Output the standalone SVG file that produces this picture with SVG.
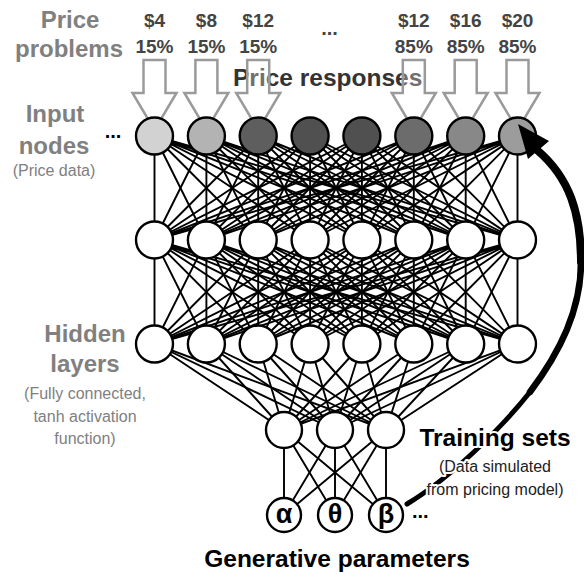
<svg xmlns="http://www.w3.org/2000/svg" width="584" height="577" viewBox="0 0 584 577">
<style>
.ln{stroke:#000;stroke-width:1.9;fill:none;stroke-linejoin:round}
.nd{stroke:#000;stroke-width:2.4;fill:#fff}
.blk{fill:#fff;fill-opacity:0.3;stroke:#9a9a9a;stroke-width:2.5}
.t{font-family:"Liberation Sans",Arial,sans-serif}
.gb{font-weight:bold;font-size:24px;fill:#808080;text-anchor:middle}
.gs{font-size:16px;fill:#808080;text-anchor:middle}
.pr{font-weight:bold;font-size:19px;fill:#444;text-anchor:middle}
.dots{font-weight:bold;font-size:20px}
.gk{font-weight:bold;font-size:27px;fill:#000;text-anchor:middle}
.halo{stroke:#fff;stroke-width:4;paint-order:stroke;stroke-linejoin:round}
.big{stroke:#000;fill:none;stroke-linecap:round}
</style>
<defs>
<polygon id="blk" points="-11,60 11,60 11,93 22,93 0,130 -22,93 -11,93"/>
<g id="mesh" class="ln">
<path d="M154.5,104L154.5,0L206.4,104M258.2,104L154.5,0L310.1,104M361.9,104L154.5,0L413.8,104M465.7,104L154.5,0L517.5,104"/>
<path d="M154.5,104L206.4,0L206.4,104M258.2,104L206.4,0L310.1,104M361.9,104L206.4,0L413.8,104M465.7,104L206.4,0L517.5,104"/>
<path d="M154.5,104L258.2,0L206.4,104M258.2,104L258.2,0L310.1,104M361.9,104L258.2,0L413.8,104M465.7,104L258.2,0L517.5,104"/>
<path d="M154.5,104L310.1,0L206.4,104M258.2,104L310.1,0L310.1,104M361.9,104L310.1,0L413.8,104M465.7,104L310.1,0L517.5,104"/>
<path d="M154.5,104L361.9,0L206.4,104M258.2,104L361.9,0L310.1,104M361.9,104L361.9,0L413.8,104M465.7,104L361.9,0L517.5,104"/>
<path d="M154.5,104L413.8,0L206.4,104M258.2,104L413.8,0L310.1,104M361.9,104L413.8,0L413.8,104M465.7,104L413.8,0L517.5,104"/>
<path d="M154.5,104L465.7,0L206.4,104M258.2,104L465.7,0L310.1,104M361.9,104L465.7,0L413.8,104M465.7,104L465.7,0L517.5,104"/>
<path d="M154.5,104L517.5,0L206.4,104M258.2,104L517.5,0L310.1,104M361.9,104L517.5,0L413.8,104M465.7,104L517.5,0L517.5,104"/>
</g>
</defs>

<g id="connectors">
<use href="#mesh" y="136"/>
<use href="#mesh" y="240"/>
<g class="ln">
<path d="M154.5,344L284,430L206.4,344M258.2,344L284,430L310.1,344M361.9,344L284,430L413.8,344M465.7,344L284,430L517.5,344"/>
<path d="M154.5,344L335,430L206.4,344M258.2,344L335,430L310.1,344M361.9,344L335,430L413.8,344M465.7,344L335,430L517.5,344"/>
<path d="M154.5,344L386,430L206.4,344M258.2,344L386,430L310.1,344M361.9,344L386,430L413.8,344M465.7,344L386,430L517.5,344"/>
<path d="M284,430L284,515L335,430M386,430L284,515"/>
<path d="M284,430L335,515L335,430M386,430L335,515"/>
<path d="M284,430L386,515L335,430M386,430L386,515"/>
</g>
</g>

<text class="t" x="233" y="86" font-weight="bold" font-size="24.5" fill="#333">Price responses</text>

<g id="input-arrows" class="blk">
<use href="#blk" x="154.5"/>
<use href="#blk" x="206.4"/>
<use href="#blk" x="258.2"/>
<use href="#blk" x="413.8"/>
<use href="#blk" x="465.7"/>
<use href="#blk" x="517.5"/>
</g>

<g id="input-layer">
<g id="in1"><circle class="nd" cx="154.5" cy="136" r="18.5" style="fill:#d2d2d2"/></g>
<g id="in2"><circle class="nd" cx="206.4" cy="136" r="18.5" style="fill:#b3b3b3"/></g>
<g id="in3"><circle class="nd" cx="258.2" cy="136" r="18.5" style="fill:#5e5e5e"/></g>
<g id="in4"><circle class="nd" cx="310.1" cy="136" r="18.5" style="fill:#505050"/></g>
<g id="in5"><circle class="nd" cx="361.9" cy="136" r="18.5" style="fill:#505050"/></g>
<g id="in6"><circle class="nd" cx="413.8" cy="136" r="18.5" style="fill:#6c6c6c"/></g>
<g id="in7"><circle class="nd" cx="465.7" cy="136" r="18.5" style="fill:#888"/></g>
<g id="in8"><circle class="nd" cx="517.5" cy="136" r="18.5" style="fill:#9c9c9c"/></g>
</g>
<g id="hidden1">
<g id="h1a"><circle class="nd" cx="154.5" cy="240" r="18.5"/></g>
<g id="h1b"><circle class="nd" cx="206.4" cy="240" r="18.5"/></g>
<g id="h1c"><circle class="nd" cx="258.2" cy="240" r="18.5"/></g>
<g id="h1d"><circle class="nd" cx="310.1" cy="240" r="18.5"/></g>
<g id="h1e"><circle class="nd" cx="361.9" cy="240" r="18.5"/></g>
<g id="h1f"><circle class="nd" cx="413.8" cy="240" r="18.5"/></g>
<g id="h1g"><circle class="nd" cx="465.7" cy="240" r="18.5"/></g>
<g id="h1h"><circle class="nd" cx="517.5" cy="240" r="18.5"/></g>
</g>
<g id="hidden2">
<g id="h2a"><circle class="nd" cx="154.5" cy="344" r="18.5"/></g>
<g id="h2b"><circle class="nd" cx="206.4" cy="344" r="18.5"/></g>
<g id="h2c"><circle class="nd" cx="258.2" cy="344" r="18.5"/></g>
<g id="h2d"><circle class="nd" cx="310.1" cy="344" r="18.5"/></g>
<g id="h2e"><circle class="nd" cx="361.9" cy="344" r="18.5"/></g>
<g id="h2f"><circle class="nd" cx="413.8" cy="344" r="18.5"/></g>
<g id="h2g"><circle class="nd" cx="465.7" cy="344" r="18.5"/></g>
<g id="h2h"><circle class="nd" cx="517.5" cy="344" r="18.5"/></g>
</g>
<g id="hidden3">
<g id="h3a"><circle class="nd" cx="284" cy="430" r="18"/></g>
<g id="h3b"><circle class="nd" cx="335" cy="430" r="18"/></g>
<g id="h3c"><circle class="nd" cx="386" cy="430" r="18"/></g>
</g>
<g id="params">
<g id="p-alpha"><circle class="nd" cx="284" cy="515" r="17"/><text class="t gk" x="284" y="523">α</text></g>
<g id="p-theta"><circle class="nd" cx="335" cy="515" r="17"/><text class="t gk" x="335" y="523">θ</text></g>
<g id="p-beta"><circle class="nd" cx="386" cy="515" r="17"/><text class="t gk" x="386" y="523">β</text></g>
</g>

<g id="training-arrow">
<path class="big" stroke-width="5" d="M407,504 C450,478 500,430 530,392"/>
<path class="big" stroke-width="6.5" d="M530,392 C560,352 581,310 581,262"/>
<path class="big" stroke-width="8" d="M581,262 C581,214 570,178 537,150"/>
<polygon points="518,124 549,141 528,159" fill="#000"/>
</g>

<g id="labels" class="t">
<text class="gb" x="70" y="28">Price</text>
<text class="gb" x="69" y="57">problems</text>
<text class="pr" x="154.5" y="27">$4</text><text class="pr" x="154.5" y="53">15%</text>
<text class="pr" x="206.4" y="27">$8</text><text class="pr" x="206.4" y="53">15%</text>
<text class="pr" x="258.2" y="27">$12</text><text class="pr" x="258.2" y="53">15%</text>
<text class="dots" x="329.5" y="35" fill="#444" text-anchor="middle">...</text>
<text class="pr" x="413.8" y="27">$12</text><text class="pr" x="413.8" y="53">85%</text>
<text class="pr" x="465.7" y="27">$16</text><text class="pr" x="465.7" y="53">85%</text>
<text class="pr" x="517.5" y="27">$20</text><text class="pr" x="517.5" y="53">85%</text>
<text class="gb" x="55" y="122">Input</text>
<text class="gb" x="54" y="154">nodes</text>
<text class="gs" x="54" y="176">(Price data)</text>
<text class="dots" x="113" y="138" fill="#000" text-anchor="middle">...</text>
<text class="gb" x="85" y="342">Hidden</text>
<text class="gb" x="85" y="372">layers</text>
<text class="gs" x="85" y="399">(Fully connected,</text>
<text class="gs" x="85" y="422">tanh activation</text>
<text class="gs" x="85" y="444">function)</text>
<text class="dots" x="412" y="518" fill="#000">...</text>
<text class="halo" x="495" y="446" font-weight="bold" font-size="24.5" fill="#000" text-anchor="middle">Training sets</text>
<text class="halo" x="495" y="472" font-size="16" fill="#222" text-anchor="middle">(Data simulated</text>
<text class="halo" x="495" y="495" font-size="16" fill="#222" text-anchor="middle">from pricing model)</text>
<text x="337" y="567" font-weight="bold" font-size="24.5" fill="#000" text-anchor="middle">Generative parameters</text>
</g>
</svg>
